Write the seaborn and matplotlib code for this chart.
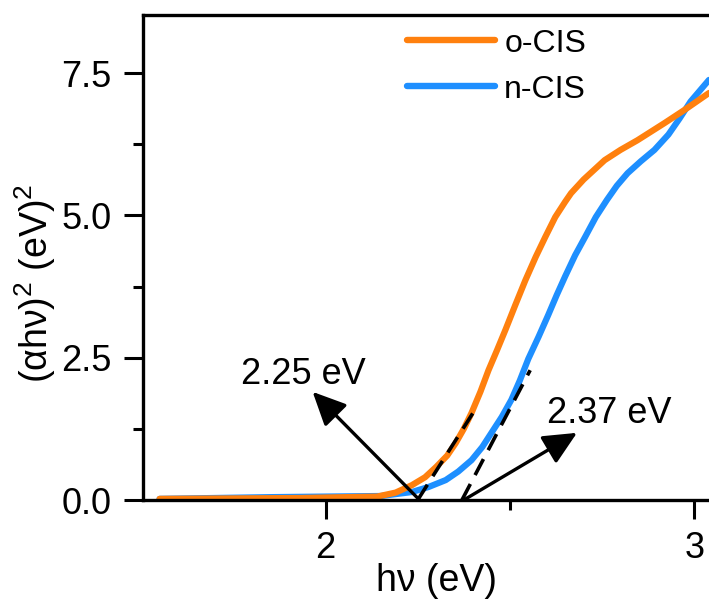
import matplotlib
matplotlib.use("Agg")
import matplotlib.pyplot as plt
import seaborn as sns
import pandas as pd
from matplotlib.ticker import MultipleLocator, FormatStrFormatter
from matplotlib.lines import Line2D

# ---- data ----
energy_o = [1.55, 1.93, 2.14, 2.19, 2.234, 2.27, 2.30, 2.33, 2.353, 2.375, 2.396, 2.42,
            2.442, 2.465, 2.488, 2.515, 2.542, 2.57, 2.596, 2.623, 2.650, 2.666, 2.70,
            2.757, 2.80, 2.846, 2.919, 2.973, 3.04]
absorb_o = [0.02, 0.035, 0.06, 0.13, 0.26, 0.40, 0.58, 0.78, 1.00, 1.25, 1.53, 1.90,
            2.28, 2.63, 2.99, 3.43, 3.86, 4.27, 4.62, 4.97, 5.24, 5.39, 5.63,
            5.97, 6.15, 6.32, 6.62, 6.85, 7.15]
energy_n = [1.55, 1.85, 2.15, 2.234, 2.28, 2.326, 2.36, 2.396, 2.425, 2.450, 2.478, 2.504,
            2.527, 2.550, 2.578, 2.604, 2.627, 2.650, 2.677, 2.704, 2.733, 2.763, 2.79,
            2.819, 2.855, 2.892, 2.93, 2.96, 2.99, 3.04]
absorb_n = [0.02, 0.05, 0.07, 0.14, 0.23, 0.35, 0.50, 0.70, 0.93, 1.18, 1.46, 1.76,
            2.10, 2.48, 2.87, 3.25, 3.60, 3.93, 4.30, 4.62, 4.97, 5.27, 5.52,
            5.74, 5.95, 6.15, 6.42, 6.70, 7.00, 7.38]

series_names = ["o-CIS", "n-CIS"]
colors = {"o-CIS": "#FF800E", "n-CIS": "#1E8FFF"}

# tangent lines (x-intercept -> end point)
tangent_o_x = [2.25, 2.40]
tangent_o_y = [0.0, 1.53]
tangent_n_x = [2.37, 2.555]
tangent_n_y = [0.0, 2.28]

band_gaps = ["2.25 eV", "2.37 eV"]

sns.set_style("ticks")
plt.rcParams["font.family"] = ["Liberation Sans", "DejaVu Sans"]
plt.rcParams["mathtext.default"] = "regular"
for k in ["text.color", "axes.labelcolor", "xtick.color", "ytick.color", "axes.edgecolor"]:
    plt.rcParams[k] = "black"

fig = plt.figure(figsize=(7.09, 5.99), dpi=100)
ax = fig.add_axes([143 / 709, 99 / 599, 566 / 709, 485 / 599])

df = pd.concat([
    pd.DataFrame({"E": energy_n, "A": absorb_n, "sample": "n-CIS"}),
    pd.DataFrame({"E": energy_o, "A": absorb_o, "sample": "o-CIS"}),
])
sns.lineplot(data=df, x="E", y="A", hue="sample", palette=colors, sort=False,
             linewidth=4.5, ax=ax, legend=False)
for ln in ax.get_lines():
    ln.set_solid_joinstyle("round")
    ln.set_solid_capstyle("round")

# dashed tangents
ax.plot(tangent_o_x, tangent_o_y, color="black", lw=2.6, ls=(0, (5, 2.8)))
ax.plot(tangent_n_x, tangent_n_y, color="black", lw=2.6, ls=(0, (5, 2.8)))

# arrows + labels
arrow_kw = dict(arrowstyle="-|>,head_length=0.85,head_width=0.4", color="black",
                lw=2.4, mutation_scale=24, shrinkA=0, shrinkB=0)
ax.annotate("", xy=(1.965, 1.90), xytext=(2.255, 0.0), arrowprops=arrow_kw)
ax.annotate("", xy=(2.682, 1.18), xytext=(2.375, 0.0), arrowprops=arrow_kw)
ax.text(1.94, 2.04, band_gaps[0], fontsize=26, ha="center", va="baseline")
ax.text(2.77, 1.35, band_gaps[1], fontsize=26, ha="center", va="baseline")

# legend
handles = [Line2D([], [], color=colors[n], lw=4.6, solid_capstyle="round") for n in series_names]
ax.legend(handles, series_names, loc="upper left", bbox_to_anchor=(0.466, 0.972),
          frameon=False, fontsize=23, handlelength=2.75, handletextpad=0.3,
          labelspacing=0.5, borderpad=0, borderaxespad=0)

ax.set_xlim(1.505, 3.04)
ax.set_ylim(0, 8.52)
ax.xaxis.set_major_locator(MultipleLocator(1))
ax.xaxis.set_minor_locator(MultipleLocator(0.5))
ax.yaxis.set_major_locator(MultipleLocator(2.5))
ax.yaxis.set_minor_locator(MultipleLocator(1.25))
ax.yaxis.set_major_formatter(FormatStrFormatter("%.1f"))

ax.tick_params(which="major", length=13.5, width=2.2, labelsize=26, direction="out")
ax.tick_params(which="minor", length=7.5, width=2.2, direction="out")
ax.tick_params(axis="y", pad=9)
ax.tick_params(axis="x", pad=9)

for s in ["left", "bottom", "top"]:
    ax.spines[s].set_linewidth(2.4)
ax.spines["right"].set_visible(False)

ax.set_xlabel("hν (eV)", fontsize=27, labelpad=0)
ax.set_ylabel("(αhν)$^2$ (eV)$^2$", fontsize=27)
ax.xaxis.set_label_coords(0.518, -0.13)
ax.yaxis.set_label_coords(-0.15, 0.447)

fig.savefig("out.png", dpi=100)
